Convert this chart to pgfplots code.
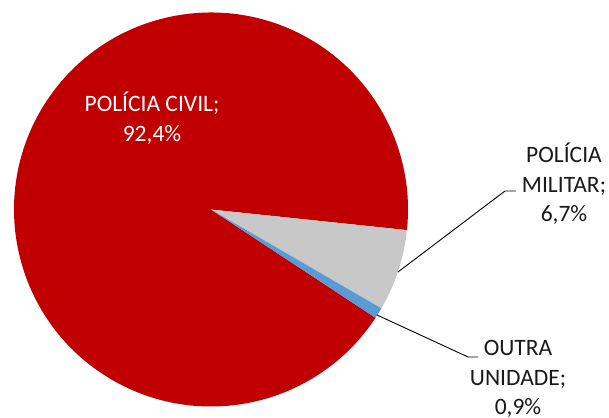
\documentclass[border=0pt]{standalone}
\usepackage{pgfplots}
\usepackage{pgfplotstable}
\usepackage{fontspec}
\setmainfont{Carlito}
\pgfplotsset{compat=1.18}

\definecolor{civil}{HTML}{C00000}
\definecolor{militar}{HTML}{C8C8C8}
\definecolor{outra}{HTML}{5B9BD5}

% share of each unit, in percent, clockwise from the first slice
\pgfplotstableread{
unit value
militar 6.7
outra 0.9
civil 92.4
}\piedata

\newcommand{\pieradius}{197pt}
\newcommand{\piecx}{211}
\newcommand{\piecy}{207.5}

\begin{document}
\begin{tikzpicture}
\useasboundingbox (0,0) rectangle (609pt,417pt);
\begin{axis}[
    scale only axis,
    width=609pt, height=417pt,
    xmin=0, xmax=609, ymin=0, ymax=417,
    hide axis,
    clip=false,
]
\pgfplotstablegetelem{0}{value}\of\piedata \let\va\pgfplotsretval
\pgfplotstablegetelem{1}{value}\of\piedata \let\vb\pgfplotsretval
\pgfplotstablegetelem{2}{value}\of\piedata \let\vc\pgfplotsretval
\pgfmathsetmacro{\aStart}{-6.0}
\pgfmathsetmacro{\aOne}{\aStart-3.6*\va}
\pgfmathsetmacro{\aTwo}{\aOne-3.6*\vb}
\pgfmathsetmacro{\aThree}{\aTwo-3.6*\vc}
\fill[civil] (axis cs:\piecx,\piecy) -- ++(\aTwo:\pieradius)
    arc[start angle=\aTwo, end angle=\aThree, radius=\pieradius] -- cycle;
\fill[militar] (axis cs:\piecx,\piecy) -- ++(\aStart:\pieradius)
    arc[start angle=\aStart, end angle=\aOne, radius=\pieradius] -- cycle;
\fill[outra] (axis cs:\piecx,\piecy) -- ++(\aOne:\pieradius)
    arc[start angle=\aOne, end angle=\aTwo, radius=\pieradius] -- cycle;

\draw[black, line width=0.9pt] (axis cs:398,145) -- (axis cs:505,226) -- (axis cs:516,226);
\draw[black, line width=0.9pt] (axis cs:377,102) -- (axis cs:468,60) -- (axis cs:478,60);

\tikzset{lbl/.style={align=center, inner sep=0pt,
    font=\fontsize{23.5}{29.5}\selectfont}}
\node[lbl, text=white] at (axis cs:152,299) {POLÍCIA CIVIL;\\92,4\%};
\node[lbl, text=black!90] at (axis cs:564,233) {POLÍCIA\\MILITAR;\\6,7\%};
\node[lbl, text=black!90] at (axis cs:518,38) {OUTRA\\UNIDADE;\\0,9\%};
\end{axis}
\end{tikzpicture}
\end{document}
